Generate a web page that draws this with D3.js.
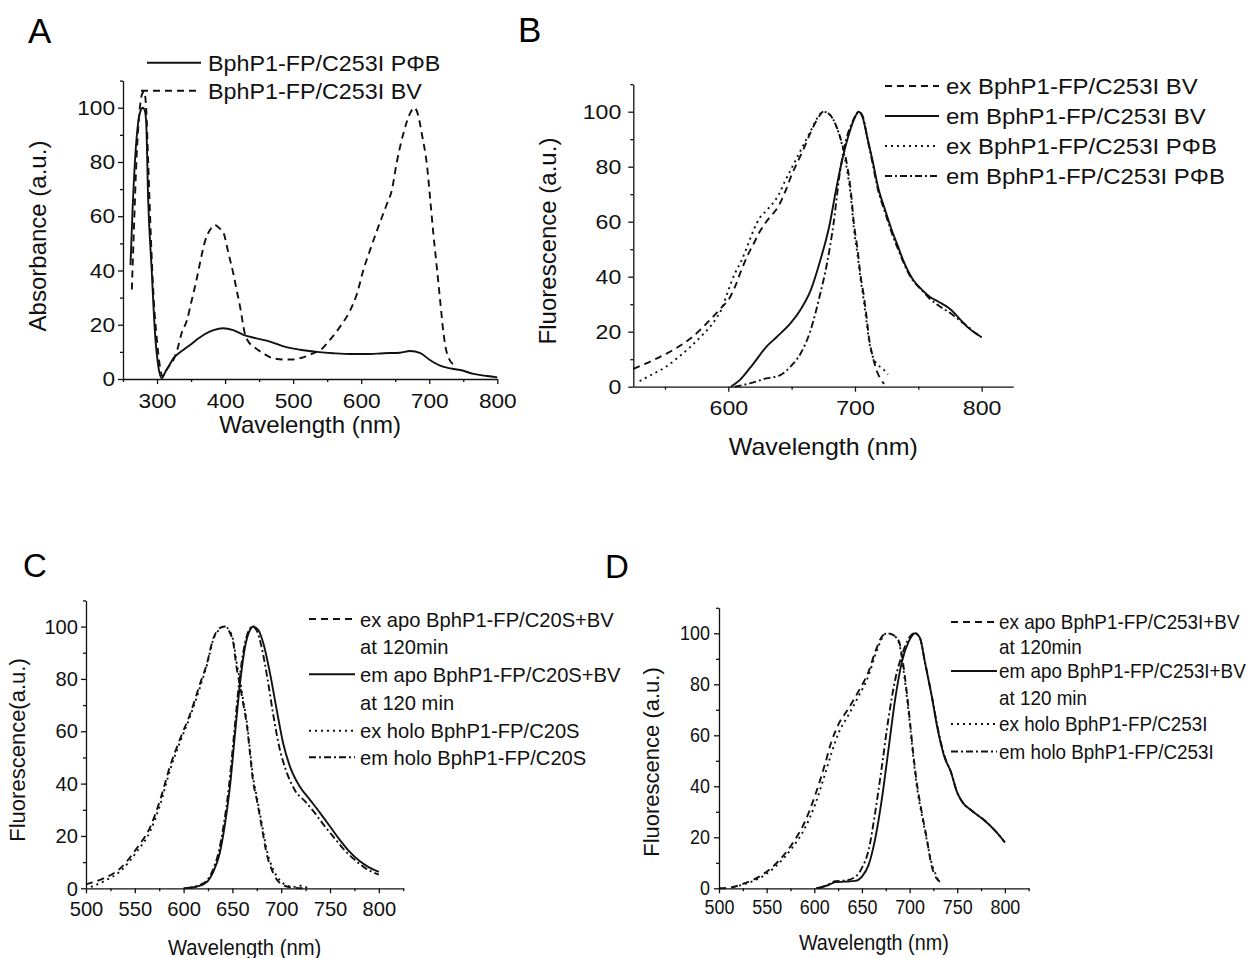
<!DOCTYPE html>
<html>
<head>
<meta charset="utf-8">
<script src="https://cdn.jsdelivr.net/npm/d3@7"></script>
<style>
  body { margin: 0; background: #fff; }
  svg { display: block; }
</style>
</head>
<body>
<div id="chart-area"></div>
<script>
// ---- data: [wavelength (nm), value] ----

// A: absorbance
var absPfb = [[261,42],[264,62],[268,82],[272,94],[276,99],[279,100],[282,99],[284,95],[287,66],[292,41],[297,17],
  [302,4.5],[307,0.3],[312,2.5],[318,5],[324,7.6],[332,9.5],[340,11],[350,12.8],[360,14.8],[370,16.5],[383,18],
  [397,18.7],[412,18],[427,16.3],[446,15],[466,13.8],[486,12],[510,10.8],[535,10],[559,9.5],[584,9.2],[608,9.2],
  [633,9.5],[657,9.7],[672,10.3],[687,9.5],[701,7],[716,4.9],[731,3.9],[746,3.3],[765,1.9],[785,1.1],[800,0.6]];
var absBv = [[263,33],[266,55],[270,82],[274,98],[278,105],[281,106],[284,100],[287,80],[291,52],[295,30],[300,14],
  [304,5],[308,1],[313,3],[318,5],[324,7],[330,11],[336,16.8],[344,21.7],[351,29],[358,36.5],[363,42.6],[371,51.2],
  [378,55],[385,56.8],[392,55.5],[398,53.7],[405,46.3],[412,39],[417,32.8],[422,26.7],[429,16.8],[435,13.5],
  [442,11.9],[456,9.5],[471,7.6],[486,7.2],[500,7.2],[515,8],[530,9.5],[540,10.7],[554,14.4],[569,19.3],[584,25.4],
  [594,31.6],[603,40],[613,47.5],[625,56],[638,64.7],[645,69.6],[652,79.5],[662,90.5],[672,98],[678,100],[684,97],
  [689,90.5],[697,78],[701.5,66],[706,53.7],[711,41.4],[716,29],[721,16.8],[726,9.5],[736,5.2]];

// B: fluorescence, BphP1-FP/C253I
var bExBv = [[525,6.5],[540,9.5],[555,13],[570,17.5],[585,24],[595,29],[600,31.5],[605,36],[610,42],[615,47.5],
  [620,52],[625,56.5],[630,60],[640,66],[645,71],[650,77],[655,82],[660,87],[665,92.5],[670,97],[675,100],[680,99],
  [685,95],[690,88],[694,80],[697,70],[699,60],[702,50],[704.5,40],[707,33],[709,26],[711,18],[714,11],[717,6],
  [720,3],[723,1]];
var bEmBv = [[602,0],[609,2.4],[620,8.5],[630,14.5],[638,18],[649,23],[657,28],[665,35],[672,45],[680,59],[685,71.5],
  [690.5,83.6],[696,93],[700,98],[703,100],[706,98],[710,90],[714,82],[718,73],[724,64],[729,57],[734,51],[738,46],
  [742,42],[746,38.8],[753,35.2],[759,32.7],[766,30.9],[776,27.9],[783,24.5],[790,21.2],[795,19.5],[800,18]];
var bExPfb = [[530,2],[540,4.5],[550,7],[560,10.5],[570,14.5],[580,19],[590,24.5],[595,28.5],[600,35],[605,41],
  [610,45.5],[615,51],[620,57],[625,61.5],[630,64],[640,70],[645,75],[650,79.5],[655,84],[660,88.5],[665,93],
  [670,97.5],[675,100],[680,99],[685,95],[690,87.5],[694,78],[697,68],[699,58],[702,48],[704.5,39],[707,31],
  [709,24],[711,17],[714,11],[718,8],[722,6.5],[726,4.5]];
var bEmPfb = [[605,0],[617,1.2],[630,3],[641,4.2],[649,7.3],[657,12],[665,20.6],[672,32.7],[678,45],[683,59],
  [688,77.6],[693,89.7],[698.7,97],[703,100],[706,98.5],[710,90],[714,81],[718,72],[724,63],[729,56],[734,50],
  [738,45.5],[742,41.5],[746,38.5],[753,35],[759,32],[766,29.5],[776,26.5],[783,24],[790,21.5],[795,19.5],[800,18]];

// C: fluorescence, C20S
var cExApo = [[500,1.5],[518,3.8],[535,7.6],[552,15.3],[566,23.6],[576,33.8],[586,46.5],[596,56.7],[607,66.9],
  [617,78.3],[624,86],[630,95],[637,99.4],[642,100],[647,98],[651,93.6],[654,85],[658,77],[661,70.7],[665,61.8],
  [668,51.6],[671,41.4],[675,33.8],[680,23.6],[685,13.4],[692,5.7],[699,1.9],[709,0.4],[722,0]];
var cEmApo = [[600,0],[613,0.6],[624,2.5],[630.5,6.4],[637,13.4],[642,23.6],[647.5,38.9],[652.7,59.2],[657.8,78.3],
  [663,92.4],[668,98.7],[671.4,100],[676.6,98.7],[681.7,93.6],[688.5,82.2],[695.4,68.2],[702,55.4],[709,46.5],
  [719,38.9],[729.5,33.8],[740,28.7],[750,23.6],[760,18.5],[770,14],[780,10.5],[790,8],[800,6.3]];
var cExHolo = [[505,0.5],[520,3],[535,6.5],[552,14],[566,22],[576,32],[586,45],[596,55.5],[607,66],[617,77],
  [624,85.5],[630,94.5],[637,99],[642,100],[647,98.5],[651,94.5],[654,87],[658,79],[661,72],[665,63],[668,53],
  [671,43],[675,35],[680,25],[685,15],[692,7],[699,3],[706,1],[712,0.5],[720,1],[728,0]];
var cEmHolo = [[602,0],[613,0.8],[624,3],[630,7],[636,14],[641,24],[646.5,39],[652,60],[657,79],[662,92],[667,98.7],
  [670.5,100],[675.5,98],[680,92],[686,80],[692,66],[698,54],[705,45],[714,37.5],[725,33],[735,28.5],[745,23.5],
  [755,19],[765,14.5],[775,11],[785,8],[800,5.2]];

// D: fluorescence, C253I
var dExApo = [[500,0],[512,0.3],[527,2],[545,5.2],[562,10.5],[576,17],[590,26],[601,36.6],[611,48.4],[618,57.5],
  [625,64],[636,70.6],[646,77],[657,85],[664,92.8],[671,98.7],[676,100],[683,99.3],[689,96.7],[693.4,87.6],
  [697,77],[700.4,65.4],[704,52.3],[707.4,41.8],[712.7,30],[718,19.6],[723,9],[728,4],[732,2.6]];
var dEmApo = [[602,0],[615,1.3],[622,2.4],[632,2.6],[643,2.9],[650,4.6],[657,9.2],[664,19.6],[671,35.3],[678,54.9],
  [685,74.5],[692,88.9],[699,96.7],[706,100],[711,98],[716,88.9],[723,75.8],[730,61.4],[737,51],[743,46],
  [750,37.5],[756,33.5],[765,30.5],[779,26.5],[790,22.5],[800,18]];
var dExHolo = [[515,0.5],[530,2],[545,4.5],[562,9.5],[576,15.5],[590,23.5],[601,33],[611,44.5],[618,53],[625,60.5],
  [636,68],[646,75],[657,83.5],[664,91.5],[671,98],[676,100],[683,99.3],[689,96],[693.4,86],[697,75.5],[700.4,64],
  [704,51],[707.4,40.5],[712.7,29],[718,19],[723,10],[728,5],[731,2.5]];
var dEmHolo = [[605,0],[615,1.5],[622,2.8],[632,3],[643,4.5],[650,8],[657,15],[664,30],[671,48],[678,67],[685,82],
  [692,91.5],[699,98],[705,100],[711,98],[716,89],[723,76],[730,62],[737,51.5],[743,46],[750,37.5],[756,33.5],
  [765,30.5],[779,26.5],[790,22.5],[800,18]];

// legend texts
var legA = ["BphP1-FP/C253I P\u03A6B", "BphP1-FP/C253I BV"];
var legB = ["ex BphP1-FP/C253I BV", "em BphP1-FP/C253I BV", "ex BphP1-FP/C253I P\u03A6B", "em BphP1-FP/C253I P\u03A6B"];
var legC = ["ex apo BphP1-FP/C20S+BV", "at 120min", "em apo BphP1-FP/C20S+BV", "at 120 min",
  "ex holo BphP1-FP/C20S", "em holo BphP1-FP/C20S"];
var legD = ["ex apo BphP1-FP/C253I+BV", "at 120min", "em apo BphP1-FP/C253I+BV", "at 120 min",
  "ex holo BphP1-FP/C253I", "em holo BphP1-FP/C253I"];

// tick values
var yMajor = [0, 20, 40, 60, 80, 100];
var yMinor = [10, 30, 50, 70, 90, 110];
var xMajorA = [300, 400, 500, 600, 700, 800];
var xMinorA = [250, 350, 450, 550, 650, 750];
var xMajorB = [600, 700, 800];
var xMinorB = [550, 650, 750];
var xMajorCD = [500, 550, 600, 650, 700, 750, 800];
var xMinorCD = [525, 575, 625, 675, 725, 775, 825];

var FONT = "'Liberation Sans', Arial, Helvetica, sans-serif";
var DASH = { solid: null, dash: "7,5", dot: "2,4", dashdot: "7,3,2,3" };

var svg = d3.select("#chart-area").append("svg")
  .attr("width", 1259)
  .attr("height", 958);

// squeeze/stretch text horizontally about its own x
function squeeze(sel, k) {
  sel.each(function() {
    var t = d3.select(this);
    var x = +t.attr("x") || 0;
    t.attr("transform", "translate(" + (x * (1 - k)) + ",0) scale(" + k + ",1)");
  });
}

function panel(p) {
  var g = svg.append("g");

  var x = d3.scaleLinear().domain(p.xDomain).range(p.xRange);
  var y = d3.scaleLinear().domain([0, 110]).range(p.yRange);

  // minor ticks
  g.append("g")
    .attr("transform", "translate(0," + p.yRange[0] + ")")
    .call(d3.axisBottom(x).tickValues(p.xMinor).tickSize(3).tickFormat(""))
    .call(function(a) { a.select(".domain").remove(); });
  g.append("g")
    .attr("transform", "translate(" + p.xRange[0] + ",0)")
    .call(d3.axisLeft(y).tickValues(yMinor).tickSize(3).tickFormat(""))
    .call(function(a) { a.select(".domain").remove(); });

  // major axes
  var xa = g.append("g")
    .attr("transform", "translate(0," + p.yRange[0] + ")")
    .call(d3.axisBottom(x).tickValues(p.xMajor).tickSize(5).tickSizeOuter(0).tickPadding(p.xPad));
  var ya = g.append("g")
    .attr("transform", "translate(" + p.xRange[0] + ",0)")
    .call(d3.axisLeft(y).tickValues(yMajor).tickSize(5).tickSizeOuter(0).tickPadding(p.yPad));

  g.selectAll(".tick line, .domain").attr("stroke", "#111").attr("stroke-width", 1.3);
  [xa, ya].forEach(function(a) {
    a.selectAll("text")
      .attr("font-family", FONT)
      .attr("font-size", p.tickSize)
      .attr("fill", "#111");
    squeeze(a.selectAll("text"), p.tickK);
  });

  // curves
  var line = d3.line()
    .x(function(d) { return x(d[0]); })
    .y(function(d) { return y(d[1]); })
    .curve(d3.curveMonotoneX);

  p.series.forEach(function(s) {
    g.append("path")
      .datum(s.data)
      .attr("fill", "none")
      .attr("stroke", "#111")
      .attr("stroke-width", 1.9)
      .attr("stroke-dasharray", DASH[s.style])
      .attr("d", line);
  });

  // axis labels
  var xl = g.append("text")
    .attr("x", (p.xRange[0] + p.xRange[1]) / 2)
    .attr("y", p.xLabelY)
    .attr("text-anchor", "middle")
    .attr("font-family", FONT)
    .attr("font-size", p.xLabelSize)
    .attr("fill", "#111")
    .text("Wavelength (nm)");
  squeeze(xl, p.xLabelK);

  g.append("text")
    .attr("transform", "translate(" + p.yLabelX + "," + p.yLabelY + ") rotate(-90)")
    .attr("text-anchor", "middle")
    .attr("font-family", FONT)
    .attr("font-size", p.yLabelSize)
    .attr("fill", "#111")
    .text(p.yLabel);

  // panel letter
  g.append("text")
    .attr("x", p.letterX)
    .attr("y", p.letterY)
    .attr("font-family", FONT)
    .attr("font-size", p.letterSize)
    .attr("fill", "#000")
    .text(p.letter);

  // legend
  p.legend.rows.forEach(function(txt, i) {
    var cy = p.legend.y[i];
    var st = p.legend.styles[i];
    if (st) {
      g.append("line")
        .attr("x1", st.x1 || p.legend.x1)
        .attr("x2", p.legend.x2)
        .attr("y1", cy).attr("y2", cy)
        .attr("stroke", "#111")
        .attr("stroke-width", 1.9)
        .attr("stroke-dasharray", DASH[st.style]);
    }
    var t = g.append("text")
      .attr("x", p.legend.tx)
      .attr("y", cy + p.legend.size * 0.36)
      .attr("font-family", FONT)
      .attr("font-size", p.legend.size)
      .attr("fill", "#111")
      .text(txt);
    squeeze(t, p.legend.k);
  });
}

// Panel A
panel({
  letter: "A", letterX: 28, letterY: 43, letterSize: 35,
  xDomain: [250, 800], xRange: [123, 497.3], yRange: [379, 80.6],
  xMajor: xMajorA, xMinor: xMinorA,
  xPad: 9, yPad: 3, tickSize: 21, tickK: 1.08,
  xLabelY: 433, xLabelSize: 24, xLabelK: 1.0,
  yLabel: "Absorbance (a.u.)", yLabelX: 46, yLabelY: 236, yLabelSize: 24,
  series: [
    { data: absBv, style: "dash" },
    { data: absPfb, style: "solid" }
  ],
  legend: {
    rows: legA, y: [62.7, 90.7], x1: 147, x2: 201, tx: 208, size: 22, k: 1.06,
    styles: [{ style: "solid" }, { style: "dash", x1: 141 }]
  }
});

// Panel B
panel({
  letter: "B", letterX: 518, letterY: 42, letterSize: 35,
  xDomain: [525, 825], xRange: [633.3, 1013.3], yRange: [386.7, 84.2],
  xMajor: xMajorB, xMinor: xMinorB,
  xPad: 8, yPad: 7, tickSize: 21, tickK: 1.1,
  xLabelY: 455, xLabelSize: 24, xLabelK: 1.04,
  yLabel: "Fluorescence (a.u.)", yLabelX: 556, yLabelY: 241, yLabelSize: 24,
  series: [
    { data: bExBv, style: "dash" },
    { data: bEmBv, style: "solid" },
    { data: bExPfb, style: "dot" },
    { data: bEmPfb, style: "dashdot" }
  ],
  legend: {
    rows: legB, y: [86, 116, 146, 176], x1: 885, x2: 939, tx: 946, size: 22, k: 1.09,
    styles: [{ style: "dash" }, { style: "solid" }, { style: "dot" }, { style: "dashdot" }]
  }
});

// Panel C
panel({
  letter: "C", letterX: 23, letterY: 577, letterSize: 33,
  xDomain: [500, 825], xRange: [86, 403.2], yRange: [888.3, 600.4],
  xMajor: xMajorCD, xMinor: xMinorCD,
  xPad: 8, yPad: 3, tickSize: 21, tickK: 0.96,
  xLabelY: 955, xLabelSize: 22, xLabelK: 0.92,
  yLabel: "Fluorescence(a.u.)", yLabelX: 25, yLabelY: 750, yLabelSize: 22,
  series: [
    { data: cExApo, style: "dash" },
    { data: cEmApo, style: "solid" },
    { data: cExHolo, style: "dot" },
    { data: cEmHolo, style: "dashdot" }
  ],
  legend: {
    rows: legC, y: [619, 646.7, 674.3, 702.7, 730.7, 757.3], x1: 309, x2: 355, tx: 360, size: 21, k: 0.96,
    styles: [{ style: "dash" }, null, { style: "solid" }, null, { style: "dot" }, { style: "dashdot" }]
  }
});

// Panel D
panel({
  letter: "D", letterX: 605, letterY: 578, letterSize: 33,
  xDomain: [500, 825], xRange: [719, 1028.7], yRange: [888.3, 607.8],
  xMajor: xMajorCD, xMinor: xMinorCD,
  xPad: 7, yPad: 4, tickSize: 19.5, tickK: 0.92,
  xLabelY: 950, xLabelSize: 22, xLabelK: 0.9,
  yLabel: "Fluorescence (a.u.)", yLabelX: 659, yLabelY: 762, yLabelSize: 22,
  series: [
    { data: dExApo, style: "dash" },
    { data: dEmApo, style: "solid" },
    { data: dExHolo, style: "dot" },
    { data: dEmHolo, style: "dashdot" }
  ],
  legend: {
    rows: legD, y: [622, 647, 671, 697.5, 724, 751.5], x1: 951, x2: 997, tx: 999, size: 20.5, k: 0.92,
    styles: [{ style: "dash" }, null, { style: "solid" }, null, { style: "dot" }, { style: "dashdot" }]
  }
});
</script>
</body>
</html>
